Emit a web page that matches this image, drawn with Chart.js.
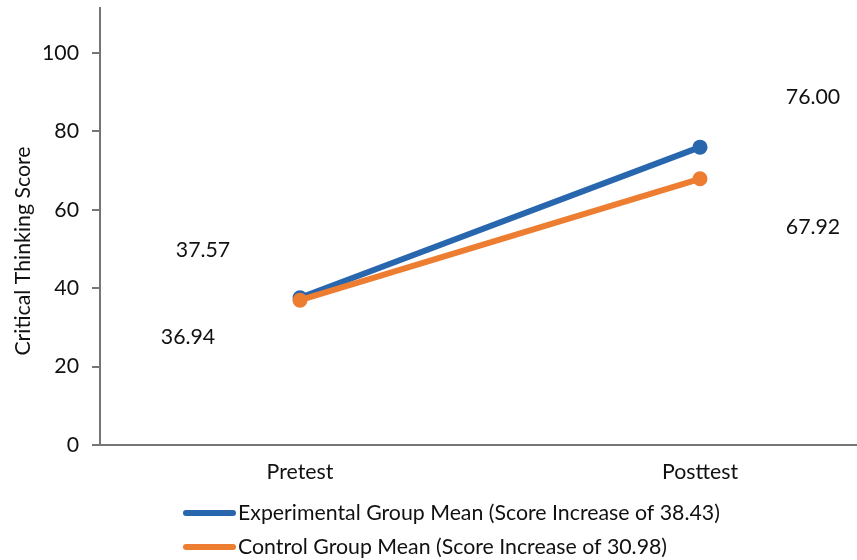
<!DOCTYPE html>
<html>
<head>
<meta charset="utf-8">
<script src="https://cdn.jsdelivr.net/npm/chart.js@4/dist/chart.umd.min.js"></script>
<style>
  html, body { margin: 0; padding: 0; background: #ffffff; }
  #wrap { width: 857px; height: 560px; position: relative; }
</style>
</head>
<body>
<div id="wrap"><canvas id="c"></canvas></div>
<script>
// Measurement phases and group means
const phases = ['Pretest', 'Posttest'];
const experimentalMeans = [37.57, 76.00];
const controlMeans = [36.94, 67.92];
const seriesNames = [
  'Experimental Group Mean (Score Increase of 38.43)',
  'Control Group Mean (Score Increase of 30.98)'
];
const yTicks = [0, 20, 40, 60, 80, 100];
const yTitle = 'Critical Thinking Score';

const FONT = 'Lato';
const FSIZE = 21.3;
const TEXT = '#111111';
const AXIS = '#767676';

const toPoints = vals => vals.map((v, i) => ({ x: i, y: v }));

// Value labels, offset away from their markers
const labelOffsets = [
  [[-97, -48], [113, -50]],
  [[-112, 37], [113, 48]]
];
const valueLabels = {
  id: 'valueLabels',
  afterDatasetsDraw(chart) {
    const { ctx, scales: { x, y } } = chart;
    ctx.save();
    ctx.font = FSIZE + 'px ' + FONT;
    ctx.fillStyle = TEXT;
    ctx.textAlign = 'center';
    ctx.textBaseline = 'middle';
    chart.data.datasets.forEach((ds, i) => {
      ds.data.forEach((p, j) => {
        const [dx, dy] = labelOffsets[i][j];
        ctx.fillText(p.y.toFixed(2), x.getPixelForValue(p.x) + dx, y.getPixelForValue(p.y) + dy);
      });
    });
    ctx.restore();
  }
};

// Axis title placed beside the value axis
const sideTitle = {
  id: 'sideTitle',
  afterDraw(chart) {
    const { ctx } = chart;
    ctx.save();
    ctx.translate(23, 251);
    ctx.rotate(-Math.PI / 2);
    ctx.font = FSIZE + 'px ' + FONT;
    ctx.fillStyle = TEXT;
    ctx.textAlign = 'center';
    ctx.textBaseline = 'middle';
    ctx.fillText(chart.options.scales.y.title.text, 0, 0);
    ctx.restore();
  }
};

// Stacked legend rows under the axis
const rowLegend = {
  id: 'rowLegend',
  afterDraw(chart) {
    const { ctx } = chart;
    ctx.save();
    ctx.font = FSIZE + 'px ' + FONT;
    ctx.textAlign = 'left';
    ctx.textBaseline = 'middle';
    chart.data.datasets.forEach((ds, i) => {
      const yy = 513 + 34 * i;
      ctx.strokeStyle = ds.borderColor;
      ctx.lineWidth = 6;
      ctx.lineCap = 'round';
      ctx.beginPath();
      ctx.moveTo(186, yy);
      ctx.lineTo(233, yy);
      ctx.stroke();
      ctx.fillStyle = TEXT;
      ctx.fillText(ds.label, 238, yy);
    });
    ctx.restore();
  }
};

function draw() {
  Chart.defaults.font.family = FONT;
  Chart.defaults.color = TEXT;
  new Chart(document.getElementById('c'), {
    type: 'line',
    data: {
      datasets: [
        {
          label: seriesNames[0],
          data: toPoints(experimentalMeans),
          borderColor: '#2866ad',
          backgroundColor: '#2866ad',
          borderWidth: 6,
          borderCapStyle: 'round',
          pointRadius: 7.5,
          pointBorderWidth: 0,
          order: 1
        },
        {
          label: seriesNames[1],
          data: toPoints(controlMeans),
          borderColor: '#ed7d31',
          backgroundColor: '#ed7d31',
          borderWidth: 6,
          borderCapStyle: 'round',
          pointRadius: 7.5,
          pointBorderWidth: 0,
          order: 0
        }
      ]
    },
    options: {
      responsive: true,
      maintainAspectRatio: false,
      animation: false,
      layout: { autoPadding: false, padding: { top: 8, right: 0, bottom: 0, left: 0 } },
      plugins: { legend: { display: false }, tooltip: { enabled: false } },
      scales: {
        x: {
          type: 'linear',
          min: -0.5,
          max: 1.3925,
          afterBuildTicks: s => { s.ticks = phases.map((_, i) => ({ value: i })); },
          afterFit: s => {
            s.height = 115;
            s.paddingLeft = 0; s.paddingRight = 0; s.paddingTop = 0; s.paddingBottom = 0;
          },
          ticks: {
            callback: v => phases[v],
            font: { size: FSIZE },
            color: TEXT,
            padding: 14,
            maxRotation: 0
          },
          grid: { display: false, drawTicks: false },
          border: { display: true, color: AXIS, width: 2 }
        },
        y: {
          min: 0,
          max: 111.5,
          afterBuildTicks: s => { s.ticks = yTicks.map(v => ({ value: v })); },
          afterFit: s => {
            s.width = 100;
            s.paddingTop = 0; s.paddingBottom = 0; s.paddingLeft = 0; s.paddingRight = 0;
          },
          title: { display: false, text: yTitle },
          ticks: { font: { size: FSIZE }, color: TEXT, padding: 13 },
          grid: { drawOnChartArea: false, drawTicks: true, tickLength: 8, color: AXIS, lineWidth: 2 },
          border: { display: true, color: AXIS, width: 2 }
        }
      }
    },
    plugins: [valueLabels, sideTitle, rowLegend]
  });
}

if (document.fonts && document.fonts.load) {
  document.fonts.load(FSIZE + 'px ' + FONT).then(draw, draw);
} else {
  draw();
}
</script>
</body>
</html>
